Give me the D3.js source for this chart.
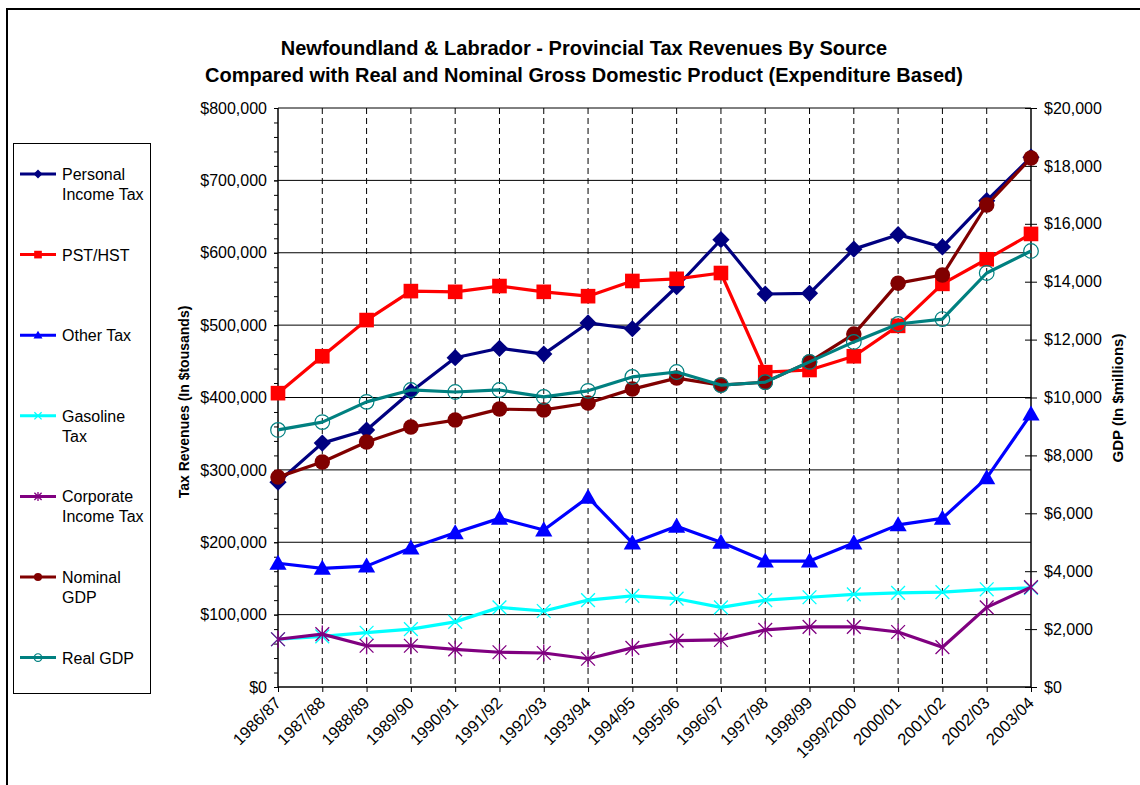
<!DOCTYPE html>
<html>
<head>
<meta charset="utf-8">
<script src="https://cdn.jsdelivr.net/npm/d3@7"></script>
<style>
  body { margin: 0; background: #fff; }
  svg { display: block; font-family: "Liberation Sans", Arial, sans-serif; }
</style>
</head>
<body>
<div id="chart"></div>
<script>
// Fiscal years
const years = ["1986/87","1987/88","1988/89","1989/90","1990/91","1991/92","1992/93","1993/94","1994/95",
  "1995/96","1996/97","1997/98","1998/99","1999/2000","2000/01","2001/02","2002/03","2003/04"];

// Tax revenues, $ thousands (left axis)
const personalIncomeTax = [283000,337000,355000,408000,455000,468000,460000,503000,495000,553000,618000,543000,544000,605000,625000,608000,672000,732000];
const pstHst            = [406000,457000,507000,547000,546000,554000,546000,540000,561000,564000,572000,435000,438000,457000,499000,557000,591000,626000];
const otherTax          = [171000,164000,167000,192000,213000,233000,217000,262000,199000,222000,200000,174000,174000,199000,224000,233000,289000,377000];
const gasolineTax       = [66000,70000,75000,80000,90000,110000,105000,120000,126000,122000,110000,120000,124000,128000,130000,131000,135000,137000];
const corporateTax      = [66000,73000,57000,57000,52000,48000,47000,39000,54000,64000,65000,79000,83000,83000,76000,55000,110000,138000];

// GDP, $ millions (right axis)
const nominalGdp = [7250,7770,8460,8980,9220,9600,9570,9810,10290,10670,10430,10530,11230,12190,13950,14230,16650,18270];
const realGdp    = [8880,9150,9850,10260,10190,10260,10020,10230,10710,10880,10430,10530,11230,11920,12540,12710,14300,15060];

const series = [
  { name: ["Personal", "Income Tax"], values: personalIncomeTax, color: "#000080", marker: "diamond", axis: "left" },
  { name: ["PST/HST"], values: pstHst, color: "#ff0000", marker: "square", axis: "left" },
  { name: ["Other Tax"], values: otherTax, color: "#0000ff", marker: "triangle", axis: "left" },
  { name: ["Gasoline", "Tax"], values: gasolineTax, color: "#00ffff", marker: "x", axis: "left" },
  { name: ["Corporate", "Income Tax"], values: corporateTax, color: "#800080", marker: "star", axis: "left" },
  { name: ["Nominal", "GDP"], values: nominalGdp, color: "#800000", marker: "circle", axis: "right" },
  { name: ["Real GDP"], values: realGdp, color: "#008080", marker: "ocircle", axis: "right" }
];

const W = 1140, H = 785;
const plot = { left: 278, right: 1031, top: 108, bottom: 687 };
const FONT = "Liberation Sans, Arial, sans-serif";

const svg = d3.select("#chart").append("svg").attr("width", W).attr("height", H);

// outer chart border
svg.append("rect").attr("x", 7).attr("y", 9).attr("width", 1140).attr("height", 800)
  .attr("fill", "none").attr("stroke", "#000").attr("stroke-width", 2);

const x = d3.scalePoint().domain(years).range([plot.left, plot.right]);
const yL = d3.scaleLinear().domain([0, 800000]).range([plot.bottom, plot.top]);
const yR = d3.scaleLinear().domain([0, 20000]).range([plot.bottom, plot.top]);

// title
const title = svg.append("text").attr("text-anchor", "middle").attr("font-weight", "bold")
  .attr("font-size", 20);
title.append("tspan").attr("x", 584).attr("y", 55).text("Newfoundland & Labrador - Provincial Tax Revenues By Source");
title.append("tspan").attr("x", 584).attr("y", 82).text("Compared with Real and Nominal Gross Domestic Product (Expenditure Based)");

// horizontal gridlines
svg.append("g").selectAll("line").data(d3.range(100000, 800001, 100000)).join("line")
  .attr("x1", plot.left).attr("x2", plot.right)
  .attr("y1", d => yL(d)).attr("y2", d => yL(d))
  .attr("stroke", "#000").attr("stroke-width", 1);

// vertical dashed gridlines
svg.append("g").selectAll("line").data(years.slice(1, -1)).join("line")
  .attr("x1", d => x(d)).attr("x2", d => x(d))
  .attr("y1", plot.top).attr("y2", plot.bottom)
  .attr("stroke", "#000").attr("stroke-width", 1).attr("stroke-dasharray", "6,4");

// left axis: minor ticks + labelled major ticks
svg.append("g").attr("transform", `translate(${plot.left},0)`)
  .call(d3.axisLeft(yL).tickValues(d3.range(0, 800001, 20000)).tickSize(4).tickFormat(""))
  .call(g => g.select(".domain").remove());
svg.append("g").attr("transform", `translate(${plot.left},0)`)
  .call(d3.axisLeft(yL).tickValues(d3.range(0, 800001, 100000)).tickSize(4).tickPadding(7).tickFormat(d3.format("$,")))
  .call(g => g.selectAll("text").attr("font-size", 16).attr("fill", "#000").attr("font-family", FONT))
  .call(g => g.select(".domain").attr("d", `M0,${plot.top}V${plot.bottom}`).attr("stroke-width", 1.5));

// right axis, ticks crossing the line
svg.append("g").attr("transform", `translate(${plot.right},0)`)
  .call(d3.axisRight(yR).tickValues(d3.range(0, 20001, 2000)).tickSize(6).tickPadding(7).tickFormat(d3.format("$,")))
  .call(g => g.selectAll(".tick line").attr("x1", -6))
  .call(g => g.selectAll("text").attr("font-size", 16).attr("fill", "#000").attr("font-family", FONT))
  .call(g => g.select(".domain").attr("d", `M0,${plot.top}V${plot.bottom}`).attr("stroke-width", 1.5));

// bottom axis
svg.append("g").attr("transform", `translate(0,${plot.bottom})`)
  .call(d3.axisBottom(x).tickSize(5).tickFormat(""))
  .call(g => g.select(".domain").attr("d", `M${plot.left},0H${plot.right}`).attr("stroke-width", 1.5));
svg.append("g").selectAll("text").data(years).join("text")
  .attr("transform", d => `translate(${x(d) + 4},${plot.bottom + 17}) rotate(-45)`)
  .attr("text-anchor", "end").attr("font-size", 16.5).text(d => d);

// axis titles
svg.append("text").attr("transform", "translate(189,402) rotate(-90)")
  .attr("text-anchor", "middle").attr("font-weight", "bold").attr("font-size", 14)
  .text("Tax Revenues (In $tousands)");
svg.append("text").attr("transform", "translate(1123,398) rotate(-90)")
  .attr("text-anchor", "middle").attr("font-weight", "bold").attr("font-size", 15)
  .text("GDP (In $millions)");

// markers
function drawMarker(g, type, color, s) {
  if (type === "diamond") {
    g.append("path").attr("d", `M0,${-s}L${s},0L0,${s}L${-s},0Z`).attr("fill", color);
  } else if (type === "square") {
    g.append("rect").attr("x", -s * 0.85).attr("y", -s * 0.85).attr("width", s * 1.7).attr("height", s * 1.7).attr("fill", color);
  } else if (type === "triangle") {
    g.append("path").attr("d", `M0,${-s}L${s},${s * 0.75}L${-s},${s * 0.75}Z`).attr("fill", color);
  } else if (type === "x") {
    g.append("path").attr("d", `M${-s * 0.8},${-s * 0.8}L${s * 0.8},${s * 0.8}M${-s * 0.8},${s * 0.8}L${s * 0.8},${-s * 0.8}`)
      .attr("stroke", color).attr("stroke-width", 1.3);
  } else if (type === "star") {
    g.append("path").attr("d", `M${-s * 0.8},${-s * 0.8}L${s * 0.8},${s * 0.8}M${-s * 0.8},${s * 0.8}L${s * 0.8},${-s * 0.8}M0,${-s}V${s}`)
      .attr("stroke", color).attr("stroke-width", 1.3);
  } else if (type === "circle") {
    g.append("circle").attr("r", s * 0.9).attr("fill", color);
  } else if (type === "ocircle") {
    g.append("circle").attr("r", s * 0.85).attr("fill", "none").attr("stroke", color).attr("stroke-width", 1.2);
  }
}

const line = d3.line();
series.forEach(s => {
  const yy = s.axis === "left" ? yL : yR;
  const pts = s.values.map((v, i) => [x(years[i]), yy(v)]);
  const g = svg.append("g");
  g.append("path").attr("d", line(pts)).attr("fill", "none")
    .attr("stroke", s.color).attr("stroke-width", 3.2).attr("stroke-linejoin", "round");
  pts.forEach(p => {
    drawMarker(g.append("g").attr("transform", `translate(${p[0]},${p[1]})`), s.marker, s.color, 8.6);
  });
});

// legend
svg.append("rect").attr("x", 13.5).attr("y", 143.5).attr("width", 137).attr("height", 550)
  .attr("fill", "#fff").attr("stroke", "#000").attr("stroke-width", 1);
series.forEach((s, i) => {
  const cy = 174 + i * 80.6;
  const g = svg.append("g");
  g.append("line").attr("x1", 20).attr("x2", 56).attr("y1", cy).attr("y2", cy)
    .attr("stroke", s.color).attr("stroke-width", 3);
  drawMarker(g.append("g").attr("transform", `translate(38,${cy})`), s.marker, s.color, 4.5);
  s.name.forEach((t, j) => {
    g.append("text").attr("x", 62).attr("y", cy + 6 + j * 20).attr("font-size", 16).text(t);
  });
});
</script>
</body>
</html>
